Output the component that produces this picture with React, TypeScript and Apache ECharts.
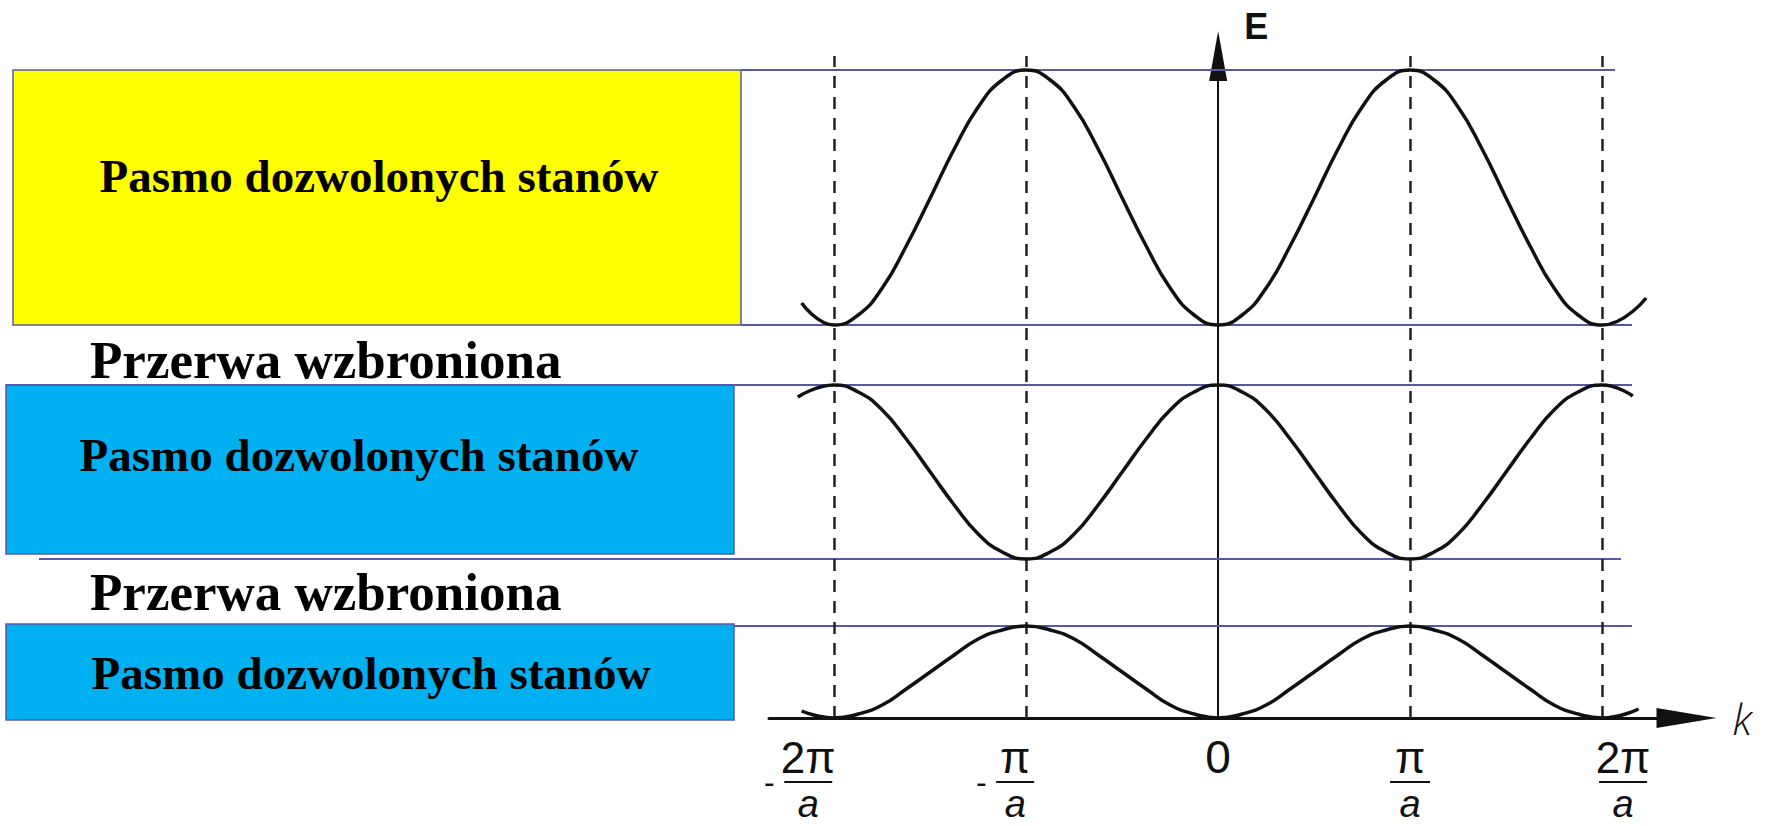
import React, { useEffect, useRef } from 'react';
import * as echarts from 'echarts';

// Wave vector k, in units of π/a
const kTicks = [-2, -1, 0, 1, 2];
const kTickSign = ['-', '-', '', '', ''];
const kTickNumerator = ['2π', 'π', '0', 'π', '2π'];
const kTickDenominator = ['a', 'a', '', 'a', 'a'];
const kBoundaries = [-2, -1, 1, 2];
const boundaryTopE = 66.2;

// Sampling of k shared by the three bands, plus each curve's loose ends
const kGrid = [
  -2, -1.875, -1.75, -1.625, -1.5, -1.375, -1.25, -1.125, -1, -0.875, -0.75, -0.625, -0.5, -0.375, -0.25, -0.125,
  0, 0.125, 0.25, 0.375, 0.5, 0.625, 0.75, 0.875, 1, 1.125, 1.25, 1.375, 1.5, 1.625, 1.75, 1.875, 2,
];

// E(k) of the three lowest allowed bands (arbitrary energy units)
const band1E = [
  0, 0.4, 1.3, 2.9, 4.6, 6.3, 7.9, 8.8, 9.2, 8.8, 7.9, 6.3, 4.6, 2.9, 1.3, 0.4,
  0, 0.4, 1.3, 2.9, 4.6, 6.3, 7.9, 8.8, 9.2, 8.8, 7.9, 6.3, 4.6, 2.9, 1.3, 0.4, 0,
];
const band2E = [
  33.3, 32.6, 30.8, 27.9, 24.6, 21.3, 18.4, 16.6, 15.9, 16.6, 18.4, 21.3, 24.6, 27.9, 30.8, 32.6,
  33.3, 32.6, 30.8, 27.9, 24.6, 21.3, 18.4, 16.6, 15.9, 16.6, 18.4, 21.3, 24.6, 27.9, 30.8, 32.6, 33.3,
];
const band3E = [
  39.3, 40.3, 43.0, 47.2, 52.0, 56.9, 61.1, 63.8, 64.8, 63.8, 61.1, 56.9, 52.0, 47.2, 43.0, 40.3,
  39.3, 40.3, 43.0, 47.2, 52.0, 56.9, 61.1, 63.8, 64.8, 63.8, 61.1, 56.9, 52.0, 47.2, 43.0, 40.3, 39.3,
];
// [k, E] where each drawn curve starts and stops
const band1Ends = [[-2.17, 0.7], [2.19, 0.9]];
const band2Ends = [[-2.19, 32.1], [2.16, 32.2]];
const band3Ends = [[-2.17, 41.5], [2.23, 42.0]];

// Band edges [bottom, top]
const bandEdges = [
  [0, 9.2],
  [15.9, 33.3],
  [39.3, 64.8],
];
const bandLabel = 'Pasmo dozwolonych stanów';
const gapLabel = 'Przerwa wzbroniona';
const kName = 'k';
const eName = 'E';

// Tick label layout: fraction width and spacers (px)
const tickLayout = [
  { frac: 48, left: 0, right: 82 },
  { frac: 38, left: 0, right: 52 },
  { frac: 0, left: 0, right: 0 },
  { frac: 40, left: 0, right: 0 },
  { frac: 48, left: 42, right: 0 },
];

const INK = '#111';
const EDGE = '#5659a8';
const TICK_FONT = '"Liberation Sans", Arial, sans-serif';
const NAME_FONT = '"Open Sans", "DejaVu Sans", sans-serif';
const SERIF = '"Liberation Serif", "Times New Roman", serif';

const bandData = (ends: number[][], es: number[]) => [ends[0], ...kGrid.map((k, i) => [k, es[i]]), ends[1]];

function buildRich() {
  const rich: Record<string, any> = {
    z: { fontFamily: TICK_FONT, fontSize: 46, lineHeight: 42, color: INK },
    m: { fontFamily: TICK_FONT, fontSize: 32, lineHeight: 8, width: 30, color: INK },
  };
  tickLayout.forEach((t, i) => {
    rich['n' + i] = { fontFamily: TICK_FONT, fontSize: 44, lineHeight: 42, width: t.frac, color: INK };
    rich['b' + i] = { lineHeight: 8, width: t.frac, height: 2, backgroundColor: INK };
    rich['d' + i] = { fontFamily: TICK_FONT, fontStyle: 'italic', fontSize: 38, lineHeight: 36, width: t.frac, color: INK };
    rich['l' + i] = { lineHeight: 8, width: t.left };
    rich['r' + i] = { lineHeight: 8, width: t.right };
  });
  return rich;
}

function tickFormatter(value: number) {
  const i = kTicks.indexOf(Math.round(value));
  if (i < 0) return '';
  if (!kTickDenominator[i]) return `{z|${kTickNumerator[i]}}`;
  const L = tickLayout[i].left ? `{l${i}|}` : '';
  const R = tickLayout[i].right ? `{r${i}|}` : '';
  const sign = kTickSign[i];
  const M = (s: string) => (sign ? `{m|${s}}` : '');
  return [
    `${L}${M('')}{n${i}|${kTickNumerator[i]}}${R}`,
    `${L}${M(sign)}{b${i}|}${R}`,
    `${L}${M('')}{d${i}|${kTickDenominator[i]}}${R}`,
  ].join('\n');
}

export default function App() {
  const ref = useRef<HTMLDivElement>(null);

  useEffect(() => {
    if (!ref.current) return;
    const chart = echarts.init(ref.current, null, { renderer: 'svg' });

    const curve = (name: string, data: number[][]) => ({
      name,
      type: 'line',
      data,
      smooth: 0.5,
      symbol: 'none',
      clip: false,
      z: 5,
      lineStyle: { color: INK, width: 3.5 },
    });

    chart.setOption({
      animation: false,
      backgroundColor: '#fff',
      grid: { left: 769, right: 78.5, top: 56, bottom: 108, containLabel: false },
      xAxis: {
        type: 'value',
        min: -2.34,
        max: 2.44,
        name: kName,
        nameLocation: 'end',
        nameGap: 46,
        nameTextStyle: {
          fontFamily: NAME_FONT,
          fontStyle: 'italic',
          fontWeight: 300,
          fontSize: 42,
          color: INK,
          align: 'left',
          verticalAlign: 'middle',
        },
        axisLine: {
          onZero: true,
          symbol: ['none', 'triangle'],
          symbolSize: [20, 60],
          lineStyle: { color: INK, width: 3 },
        },
        axisTick: { show: false },
        splitLine: { show: false },
        axisLabel: {
          customValues: kTicks,
          formatter: tickFormatter,
          margin: 18,
          color: INK,
          rich: buildRich(),
        },
      },
      yAxis: {
        type: 'value',
        min: 0,
        max: 66.2,
        name: eName,
        nameLocation: 'end',
        nameGap: 12,
        nameTextStyle: {
          fontFamily: '"Liberation Sans", Arial, sans-serif',
          fontWeight: 'bold',
          fontSize: 36,
          color: INK,
          align: 'left',
          verticalAlign: 'bottom',
          padding: [0, 0, 0, 26],
        },
        axisLine: {
          show: true,
          onZero: true,
          symbol: ['none', 'triangle'],
          symbolSize: [18, 50],
          lineStyle: { color: INK, width: 2 },
        },
        axisTick: { show: false },
        axisLabel: { show: false },
        splitLine: { show: false },
      },
      series: [
        {
          ...curve('band1', bandData(band1Ends, band1E)),
          markLine: {
            silent: true,
            symbol: ['none', 'none'],
            label: { show: false },
            lineStyle: { color: '#222', width: 2.5, type: [12, 9] },
            data: kBoundaries.map((k) => [{ coord: [k, 0] }, { coord: [k, boundaryTopE] }]),
          },
        },
        curve('band2', bandData(band2Ends, band2E)),
        curve('band3', bandData(band3Ends, band3E)),
      ],
    });

    const yOf = (e: number) => chart.convertToPixel({ gridIndex: 0 }, [0, e])[1] as number;

    const edgeLines = [
      { e: bandEdges[2][1], x1: 741, x2: 1615 },
      { e: bandEdges[2][0], x1: 741, x2: 1632 },
      { e: bandEdges[1][1], x1: 6, x2: 1632 },
      { e: bandEdges[1][0], x1: 39, x2: 1621 },
      { e: bandEdges[0][1], x1: 734, x2: 1632 },
    ];

    const boxStroke = { stroke: EDGE, lineWidth: 1.5 };
    const t3 = yOf(bandEdges[2][1]);
    const b3 = yOf(bandEdges[2][0]);
    const t2 = yOf(bandEdges[1][1]);
    const b2 = yOf(bandEdges[1][0]) - 5;
    const t1 = yOf(bandEdges[0][1]) - 2;
    const b1 = yOf(bandEdges[0][0]) + 2;

    const labelText = (text: string, x: number, y: number, size: number, align: string) => ({
      type: 'text',
      x,
      y,
      z: 20,
      style: {
        text,
        fill: '#000',
        font: `bold ${size}px ${SERIF}`,
        textAlign: align,
        textVerticalAlign: 'middle',
      },
    });

    chart.setOption({
      graphic: [
        { type: 'rect', z: 0, shape: { x: 13, y: t3, width: 728, height: b3 - t3 }, style: { fill: '#ffff00', ...boxStroke } },
        { type: 'rect', z: 0, shape: { x: 6, y: t2, width: 728, height: b2 - t2 }, style: { fill: '#00b0f0', ...boxStroke } },
        { type: 'rect', z: 0, shape: { x: 6, y: t1, width: 728, height: b1 - t1 }, style: { fill: '#00b0f0', ...boxStroke } },
        ...edgeLines.map((l) => ({
          type: 'line',
          z: 1,
          shape: { x1: l.x1, y1: yOf(l.e), x2: l.x2, y2: yOf(l.e) },
          style: { stroke: EDGE, lineWidth: 1.8 },
        })),
        labelText(bandLabel, 379, 176, 47, 'center'),
        labelText(gapLabel, 90, 360, 53, 'left'),
        labelText(bandLabel, 359, 455, 47, 'center'),
        labelText(gapLabel, 90, 592, 53, 'left'),
        labelText(bandLabel, 371, 673, 47, 'center'),
      ],
    });

    return () => chart.dispose();
  }, []);

  return (
    <div
      ref={ref}
      style={{ position: 'fixed', left: 0, top: 0, width: 1765, height: 826, background: '#fff' }}
    />
  );
}
